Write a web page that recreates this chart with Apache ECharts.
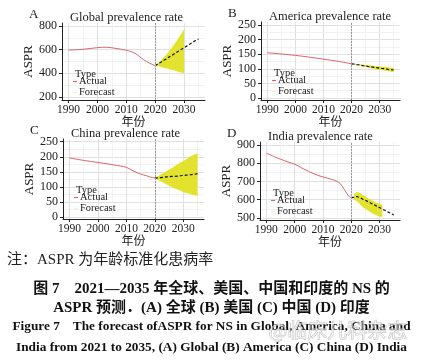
<!DOCTYPE html>
<html><head><meta charset="utf-8">
<script src="https://cdn.jsdelivr.net/npm/echarts@6/dist/echarts.min.js"></script>
<style>html,body{margin:0;padding:0;background:#fff}#c{width:423px;height:363px}</style>
</head><body><div id="c"></div>
<script>
// ---------------- data ----------------
const xTicks = [1990, 2000, 2010, 2020, 2030];
const xMinorTicks = [1995, 2005, 2015, 2025, 2035];
const fcYears = [2020,2021,2022,2023,2024,2025,2026,2027,2028,2029,2030,2031,2032,2033,2034,2035];

// A: Global
const globalYTicks = [200, 400, 600, 800];
const globalYMinor = [300, 500, 700];
const globalActYears = [1990,1995,2000,2003,2006,2010,2013,2016,2018,2020];
const globalActual = [597,603,617,621,612,595,570,515,487,464];
const globalForecast = [464,480,494,510,524,541,555,571,586,602,616,632,647,663,677,690];
const globalBandYears = [2020,2021,2022,2023,2024,2025,2026,2027,2028,2029,2030];
const globalUpper = [464,486,510,535,562,592,624,658,695,733,772];
const globalLower = [464,459,453,447,441,435,428,421,414,407,400];

// B: America
const usYTicks = [0, 50, 100, 150, 200, 250];
const usYMinor = [25, 75, 125, 175, 225];
const usActYears = [1990,1995,2000,2005,2010,2015,2020];
const usActual = [155,151,146,140,133,126,117];
const usForecast = [117,116,114,113,111,110,108,107,105,104,102,101,100,98,97,96];
const usBandYears = fcYears;
const usUpper = [117,117,116,115,114,113,112,111,110,109,108,107,106,105,104,103];
const usLower = [117,115,113,111,108,106,104,102,100,98,97,95,93,92,90,89];

// C: China
const cnYTicks = [0, 50, 100, 150, 200, 250];
const cnYMinor = [25, 75, 125, 175, 225];
const cnActYears = [1990,1995,2000,2005,2008,2010,2012,2014,2016,2018,2020];
const cnActual = [196,188,181,174,169,165,155,146,140,134,129];
const cnForecast = [129,130,131,132,133,134,135,135,136,137,138,139,140,141,142,144];
const cnBandYears = fcYears;
const cnUpper = [129,135,141,146,152,158,163,169,175,181,186,192,198,203,208,212];
const cnLower = [129,124,119,114,109,104,99,95,91,87,83,80,77,74,72,70];

// D: India
const inYTicks = [500, 600, 700, 800, 900];
const inYMinor = [550, 650, 750, 850];
const inActYears = [1990,1993,1995,1998,2000,2003,2005,2008,2010,2013,2015,2016,2017,2018,2019,2020];
const inActual = [855,835,822,805,795,770,755,735,725,712,700,690,670,645,622,612];
const inForecast = [612,614,618,612,604,597,589,581,573,565,557,549,541,533,525,517];
const inBandYears = [2021,2022,2023,2024,2025,2026,2027,2028,2029,2030,2031];
const inUpper = [632,642,638,628,618,608,600,592,584,578,574];
const inLower = [602,592,576,560,550,540,530,520,513,508,506];

const panelLetters = ['A', 'B', 'C', 'D'];
const panelTitles = ['Global prevalence rate', 'America prevalence rate', 'China prevalence rate', 'India prevalence rate'];
const legendTitle = 'Type';
const legendNames = ['Actual', 'Forecast'];
const xName = '年份';
const yName = 'ASPR';
const noteText = '注：ASPR 为年龄标准化患病率';
const captionLines = [
  '图 7　2021—2035 年全球、美国、中国和印度的 NS 的',
  'ASPR 预测．(A) 全球 (B) 美国 (C) 中国 (D) 印度',
  'Figure 7　The forecast ofASPR for NS in Global, America, China and',
  'India from 2021 to 2035, (A) Global (B) America (C) China (D) India'
];
const watermark = '@临床儿科杂志';

// ---------------- layout / style ----------------
const SERIF = "'Liberation Serif','DejaVu Serif',serif";
const CJK = "'Liberation Serif','Noto Sans CJK SC',sans-serif";
const RED = '#d9646b';
const YELLOW = '#e1e124';

const panels = [
  {act:[globalActYears, globalActual], fc:globalForecast, band:[globalBandYears, globalUpper, globalLower],
   yT:globalYTicks, yM:globalYMinor, yMin:174.6, yMax:825.4, g:{left:62, right:218, top:23, height:77}},
  {act:[usActYears, usActual], fc:usForecast, band:[usBandYears, usUpper, usLower],
   yT:usYTicks, yM:usYMinor, yMin:-6.8, yMax:260.3, g:{left:261, right:23, top:22, height:78}},
  {act:[cnActYears, cnActual], fc:cnForecast, band:[cnBandYears, cnUpper, cnLower],
   yT:cnYTicks, yM:cnYMinor, yMin:-6.6, yMax:259, g:{left:63, right:219, top:139, height:80}},
  {act:[inActYears, inActual], fc:inForecast, band:[inBandYears, inUpper, inLower],
   yT:inYTicks, yM:inYMinor, yMin:489, yMax:916.4, g:{left:260, right:23, top:142, height:78}}
];
const X_MIN = 1987.75, X_MAX = 2037.25;

const grids = [], xAxes = [], yAxes = [], series = [], titles = [], legends = [];

panels.forEach((p, i) => {
  grids.push(Object.assign({containLabel:false}, p.g));
  xAxes.push({
    type:'value', gridIndex:i, min:X_MIN, max:X_MAX,
    name: xName, nameLocation:'middle', nameGap:15,
    nameTextStyle:{fontFamily:CJK, fontSize:12, color:'#222'},
    axisLine:{show:true, onZero:false, lineStyle:{color:'#222', width:1}},
    axisTick:{show:true, length:3, customValues:xTicks, lineStyle:{color:'#222'}},
    axisLabel:{customValues:xTicks, formatter:v=>String(v), fontFamily:SERIF, fontSize:11.5, color:'#222', margin:4},
    splitLine:{show:true, lineStyle:{color:'#e0e0e0', width:1}}
  });
  xAxes.push({
    type:'value', gridIndex:i, min:X_MIN, max:X_MAX, position:'bottom',
    axisLine:{show:false}, axisTick:{show:false, customValues:xMinorTicks},
    axisLabel:{show:false}, splitLine:{show:true, lineStyle:{color:'#ececec', width:0.7}}
  });
  yAxes.push({
    type:'value', gridIndex:i, min:p.yMin, max:p.yMax,
    name: yName, nameLocation:'middle', nameGap:22, nameRotate:90,
    nameTextStyle:{fontFamily:SERIF, fontSize:13, color:'#222'},
    axisLine:{show:true, onZero:false, lineStyle:{color:'#222', width:1}},
    axisTick:{show:true, length:3, customValues:p.yT, lineStyle:{color:'#222'}},
    axisLabel:{customValues:p.yT, formatter:v=>String(v), fontFamily:SERIF, fontSize:12, color:'#222', margin:5},
    splitLine:{show:true, lineStyle:{color:'#e0e0e0', width:1}}
  });
  yAxes.push({
    type:'value', gridIndex:i, min:p.yMin, max:p.yMax, position:'left',
    axisLine:{show:false}, axisTick:{show:false, customValues:p.yM},
    axisLabel:{show:false}, splitLine:{show:true, lineStyle:{color:'#ececec', width:0.7}}
  });
  const xi = 2*i, yi = 2*i;
  const [by, bu, bl] = p.band;
  series.push({
    type:'custom', name:'band-'+i, xAxisIndex:xi, yAxisIndex:yi, silent:true, z:2, clip:false,
    data: by.map((x,k)=>[x, bl[k], bu[k]]),
    encode:{x:0, y:[1,2]},
    renderItem:(params, api) => {
      if (params.dataIndex !== 0) return null;
      const pts = [];
      for (let k = 0; k < by.length; k++) pts.push(api.coord([by[k], bu[k]]));
      for (let k = by.length - 1; k >= 0; k--) pts.push(api.coord([by[k], bl[k]]));
      return {type:'polygon', shape:{points:pts, smooth:0}, style:{fill:YELLOW, opacity:0.95}};
    }
  });
  series.push({
    type:'line', name:'Actual', xAxisIndex:xi, yAxisIndex:yi,
    data: p.act[0].map((x,k)=>[x, p.act[1][k]]), symbol:'none', smooth:0.3,
    lineStyle:{color:RED, width:1}, itemStyle:{color:RED}, z:3
  });
  series.push({
    type:'line', name:'Forecast', xAxisIndex:xi, yAxisIndex:yi,
    data: fcYears.map((x,k)=>[x, p.fc[k]]), symbol:'none',
    lineStyle:{color:'#111', width:1.2, type:[3,2]}, itemStyle:{color:'#eeeeaa'}, z:4,
    markLine:{silent:true, symbol:'none', label:{show:false},
      lineStyle:{color:'#999', width:1, type:[2,1]}, data:[{xAxis:2020}]}
  });
  const gl = p.g.left;
  const gt = p.g.top;
  titles.push({text:panelLetters[i], left:gl-38, top:gt-20, textStyle:{fontFamily:SERIF, fontSize:13, fontWeight:'normal', color:'#222'}});
  titles.push({text:panelTitles[i], left:gl+3, top:gt-17, textStyle:{fontFamily:SERIF, fontSize:12.5, fontWeight:'normal', color:'#222'}});
  titles.push({text:legendTitle, left:gl+8, top:gt+41, textStyle:{fontFamily:SERIF, fontSize:10.5, fontWeight:'normal', color:'#222'}});
  legends.push({
    left:gl+11, top:gt+53, orient:'vertical', itemGap:0, itemWidth:4, itemHeight:1.2,
    icon:'rect', selectedMode:false, padding:0,
    textStyle:{fontFamily:SERIF, fontSize:10.5, color:'#222', lineHeight:9, padding:[0,0,0,-3]},
    data:[{name:legendNames[0], itemStyle:{color:RED}}, {name:legendNames[1], itemStyle:{color:'#f2f2c8'}}]
  });
});

const graphics = [
  {type:'text', left:7, top:253, style:{text:noteText, font:"15px "+CJK, fill:'#222'}},
  {type:'text', left:'center', top:282, style:{text:captionLines[0], font:"bold 15px "+CJK, fill:'#111'}},
  {type:'text', left:'center', top:301, style:{text:captionLines[1], font:"bold 15px "+CJK, fill:'#111'}},
  {type:'text', left:'center', top:320, style:{text:captionLines[2], font:"bold 13.3px "+SERIF, fill:'#111'}},
  {type:'text', left:'center', top:341, style:{text:captionLines[3], font:"bold 13.3px "+SERIF, fill:'#111'}},
  {type:'text', left:268, top:320, z:100, style:{text:watermark, font:"20px 'Noto Sans CJK SC',sans-serif", fill:'rgba(255,255,255,0.45)', stroke:'rgba(140,140,140,0.55)', lineWidth:0.8}}
];

const chart = echarts.init(document.getElementById('c'), null, {renderer:'canvas'});
chart.setOption({
  animation:false, backgroundColor:'#fff',
  title:titles, legend:legends, grid:grids, xAxis:xAxes, yAxis:yAxes, series:series, graphic:graphics
});
</script></body></html>
